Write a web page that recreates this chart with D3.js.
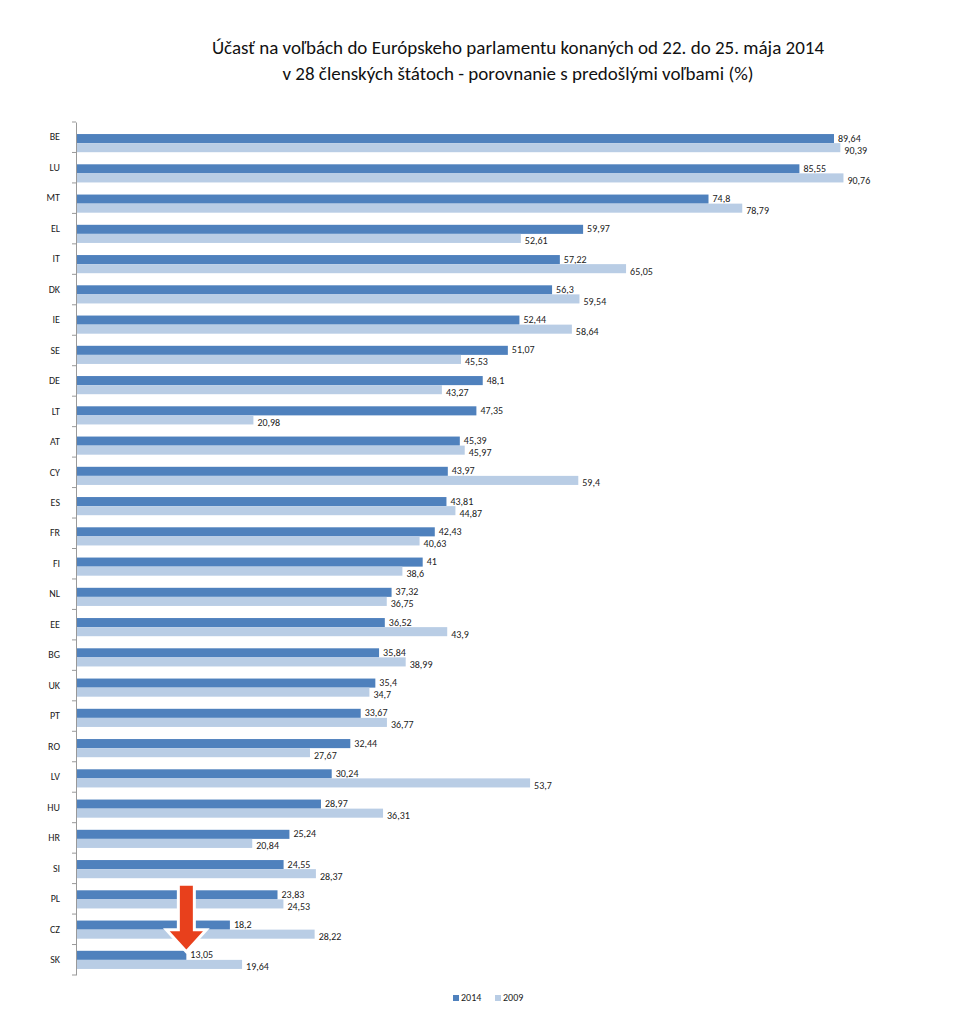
<!DOCTYPE html><html><head><meta charset="utf-8"><script src="https://cdn.jsdelivr.net/npm/d3@7"></script>
<style>body{margin:0;background:#fff}</style></head><body><svg id="c" width="969" height="1020"></svg>
<script>
const countries=["BE","LU","MT","EL","IT","DK","IE","SE","DE","LT","AT","CY","ES","FR","FI","NL","EE","BG","UK","PT","RO","LV","HU","HR","SI","PL","CZ","SK"];
const v2014=[89.64,85.55,74.8,59.97,57.22,56.3,52.44,51.07,48.1,47.35,45.39,43.97,43.81,42.43,41,37.32,36.52,35.84,35.4,33.67,32.44,30.24,28.97,25.24,24.55,23.83,18.2,13.05];
const v2009=[90.39,90.76,78.79,52.61,65.05,59.54,58.64,45.53,43.27,20.98,45.97,59.4,44.87,40.63,38.6,36.75,43.9,38.99,34.7,36.77,27.67,53.7,36.31,20.84,28.37,24.53,28.22,19.64];
const series=["2014","2009"];
const colors=["#4f81bd","#b9cde5"];
const svg=d3.select("#c");
const font="Calibri, Carlito, 'Liberation Sans', sans-serif";
const x=d3.scaleLinear().domain([0,100]).range([76,921.6]);
const y=d3.scaleBand().domain(countries).range([128,975]).paddingInner(0.4).paddingOuter(0.2);
const t=svg.append("text").attr("text-anchor","middle").attr("font-family",font).attr("font-size",19).attr("fill","#111");
t.append("tspan").attr("x",518).attr("y",54).text("Účasť na voľbách do Európskeho parlamentu konaných od 22. do 25. mája 2014");
t.append("tspan").attr("x",518).attr("y",80).text("v 28 členských štátoch - porovnanie s predošlými voľbami (%)");
const bh=y.bandwidth()/2;
[v2014,v2009].forEach((vals,si)=>{
  const g=svg.append("g");
  g.selectAll("rect").data(vals).join("rect").attr("x",x(0)).attr("y",(d,i)=>y(countries[i])+si*bh).attr("width",d=>x(d)-x(0)).attr("height",bh).attr("fill",colors[si]);
  g.selectAll("text").data(vals).join("text").attr("x",d=>x(d)+4).attr("y",(d,i)=>y(countries[i])+si*bh+bh/2+4+(si?2:-1)).attr("font-family",font).attr("font-size",10).attr("fill","#222").text(d=>String(d).replace(".",","));
});
const ax=d3.axisLeft(d3.scaleBand().domain(countries).range([122,975])).tickSize(0).tickPadding(16);
const ag=svg.append("g").attr("transform",`translate(${x(0)},0)`).call(ax);
ag.select(".domain").attr("stroke","#999");
ag.selectAll("text").attr("font-family",font).attr("font-size",10).attr("fill","#222");
const step=(975-122)/countries.length;
d3.range(countries.length+1).forEach(i=>svg.append("line").attr("x1",x(0)-4).attr("x2",x(0)).attr("y1",122+i*step).attr("y2",122+i*step).attr("stroke","#999"));
// arrow pointing at SK
const ax0=x(v2014[27]), tipY=y("SK")+1, topY=y("PL")-6;
const p=`M${ax0-8},${topY} L${ax0+8},${topY} L${ax0+8},${tipY-22} L${ax0+20},${tipY-22} L${ax0},${tipY} L${ax0-20},${tipY-22} L${ax0-8},${tipY-22} Z`;
svg.append("path").attr("d",p).attr("fill","#e8401c").attr("stroke","#fff").attr("stroke-width",3).attr("stroke-linejoin","miter");
const lg=svg.append("g").attr("font-family",font).attr("font-size",10).attr("fill","#222");
series.forEach((s,i)=>{const lx=453+i*42;lg.append("rect").attr("x",lx).attr("y",995).attr("width",6).attr("height",6).attr("fill",colors[i]);lg.append("text").attr("x",lx+8).attr("y",1001).text(s);});
</script></body></html>
